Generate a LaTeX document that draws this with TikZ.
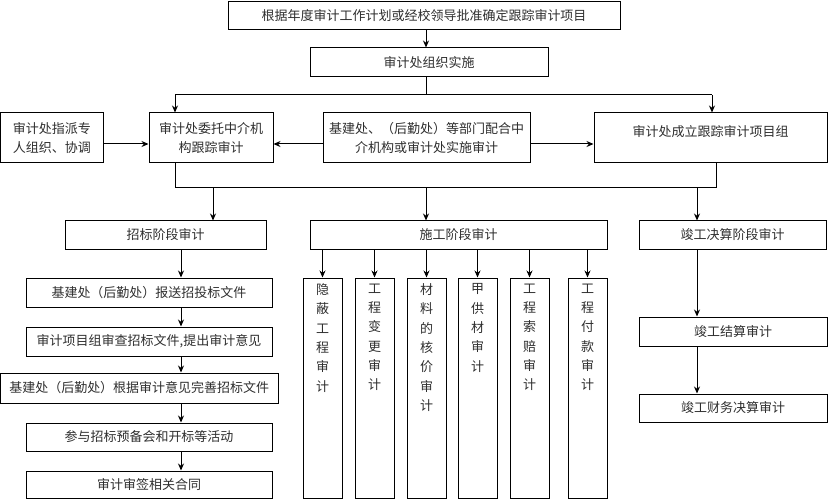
\documentclass[tikz,border=0pt]{standalone}
\usepackage{fontspec}
\setmainfont{Noto Sans CJK SC}
\usetikzlibrary{arrows.meta,calc}
\begin{document}
\begin{tikzpicture}[x=1pt,y=-1pt,
  box/.style={draw, line width=1pt, inner sep=0pt, align=center, font=\fontsize{13}{19.3}\selectfont, text=black!82},
  vb/.style={draw, line width=1pt, inner sep=0pt, minimum width=39pt, minimum height=220pt},
  vt/.style={inner sep=0pt, align=center, font=\fontsize{13}{19.3}\selectfont, text=black!82, anchor=north},
  arr/.style={line width=1pt, -{Stealth[length=7pt,width=6pt]}},
  ln/.style={line width=1pt}]
\useasboundingbox (0,0) rectangle (828,500);
% top part
\node[box, minimum width=392pt, minimum height=28pt] (top) at (424,16) {根据年度审计工作计划或经校领导批准确定跟踪审计项目};
\node[box, minimum width=238pt, minimum height=29pt] (org) at (429,62.5) {审计处组织实施};
\coordinate (xa) at (426,95);
\draw[arr] (top.south -| xa) -- (org.north -| xa);
\draw[ln] (org.south -| xa) -- (xa);
% second row
\node[box, minimum width=102.5pt, minimum height=50pt] (zp) at (51.75,138) {审计处指派专\\人组织、协调};
\node[box, minimum width=124pt, minimum height=50pt] (wt) at (211,138) {审计处委托中介机\\构跟踪审计};
\node[box, minimum width=207pt, minimum height=50pt] (mid) at (426.5,138) {基建处、（后勤处）等部门配合中\\介机构或审计处实施审计};
\node[box, minimum width=233pt, minimum height=50pt] (grp) at (710.5,138) {审计处成立跟踪审计项目组\\[-5pt]\mbox{}};
\coordinate (s1) at (175,95);
\coordinate (s2) at (712,95);
\draw[ln] (s1) -- (s2);
\draw[arr] (s1) -- (wt.north -| s1);
\draw[arr] (s2) -- (grp.north -| s2);
\coordinate (ya) at (0,144);
\draw[arr] (zp.east |- ya) -- (wt.west |- ya);
\draw[arr] (mid.west |- ya) -- (wt.east |- ya);
\draw[arr] (mid.east |- ya) -- (grp.west |- ya);
% collector line
\coordinate (b1) at (175,188);
\coordinate (b2) at (716,188);
\draw[ln] (wt.south -| b1) -- (b1) -- (b2) -- (grp.south -| b2);
% stage boxes
\node[box, minimum width=201pt, minimum height=28pt] (zb) at (165.5,235) {招标阶段审计};
\node[box, minimum width=297pt, minimum height=28pt] (sg) at (458.5,235) {施工阶段审计};
\node[box, minimum width=187pt, minimum height=28pt] (jg) at (732.5,235) {竣工决算阶段审计};
\coordinate (t1) at (213,188);
\coordinate (t2) at (426,188);
\coordinate (t3) at (697,188);
\draw[arr] (t1) -- (zb.north -| t1);
\draw[arr] (t2) -- (sg.north -| t2);
\draw[arr] (t3) -- (jg.north -| t3);
% left column
\node[box, minimum width=246pt, minimum height=29pt] (l1) at (149,292.5) {基建处（后勤处）报送招投标文件};
\node[box, minimum width=246pt, minimum height=29pt] (l2) at (149,341.5) {审计项目组审查招标文件,提出审计意见};
\node[box, minimum width=277.5pt, minimum height=30pt] (l3) at (139.25,388) {基建处（后勤处）根据审计意见完善招标文件};
\node[box, minimum width=246pt, minimum height=28pt] (l4) at (149,437) {参与招标预备会和开标等活动};
\node[box, minimum width=246pt, minimum height=27pt] (l5) at (149,484.5) {审计审签相关合同};
\coordinate (xl) at (181,0);
\draw[arr] (zb.south -| xl) -- (l1.north -| xl);
\draw[arr] (l1.south -| xl) -- (l2.north -| xl);
\draw[arr] (l2.south -| xl) -- (l3.north -| xl);
\draw[arr] (l3.south -| xl) -- (l4.north -| xl);
\draw[arr] (l4.south -| xl) -- (l5.north -| xl);
% construction column
\node[vb] (v1) at (322.5,388) {};
\node[vb] (v2) at (374.5,388) {};
\node[vb] (v3) at (426.5,388) {};
\node[vb] (v4) at (477.5,388) {};
\node[vb] (v5) at (529.5,388) {};
\node[vb] (v6) at (587.5,388) {};
\node[vt] at ([yshift=-6pt]v1.north) {隐\\蔽\\工\\程\\审\\计};
\node[vt] at ([yshift=-6pt]v2.north) {工\\程\\变\\更\\审\\计};
\node[vt] at ([yshift=-6pt]v3.north) {材\\料\\的\\核\\价\\审\\计};
\node[vt] at ([yshift=-6pt]v4.north) {甲\\供\\材\\审\\计};
\node[vt] at ([yshift=-6pt]v5.north) {工\\程\\索\\赔\\审\\计};
\node[vt] at ([yshift=-6pt]v6.north) {工\\程\\付\\款\\审\\计};
\foreach \v in {v1,v2,v3,v4,v5,v6} {
  \draw[arr] (sg.south -| \v) -- (\v.north);
}
% completion column
\node[box, minimum width=188pt, minimum height=29pt] (js) at (733,331.5) {竣工结算审计};
\node[box, minimum width=188pt, minimum height=28pt] (jc) at (733,408) {竣工财务决算审计};
\coordinate (xr) at (697,0);
\draw[arr] (jg.south -| xr) -- (js.north -| xr);
\draw[arr] (js.south -| xr) -- (jc.north -| xr);
\end{tikzpicture}
\end{document}
